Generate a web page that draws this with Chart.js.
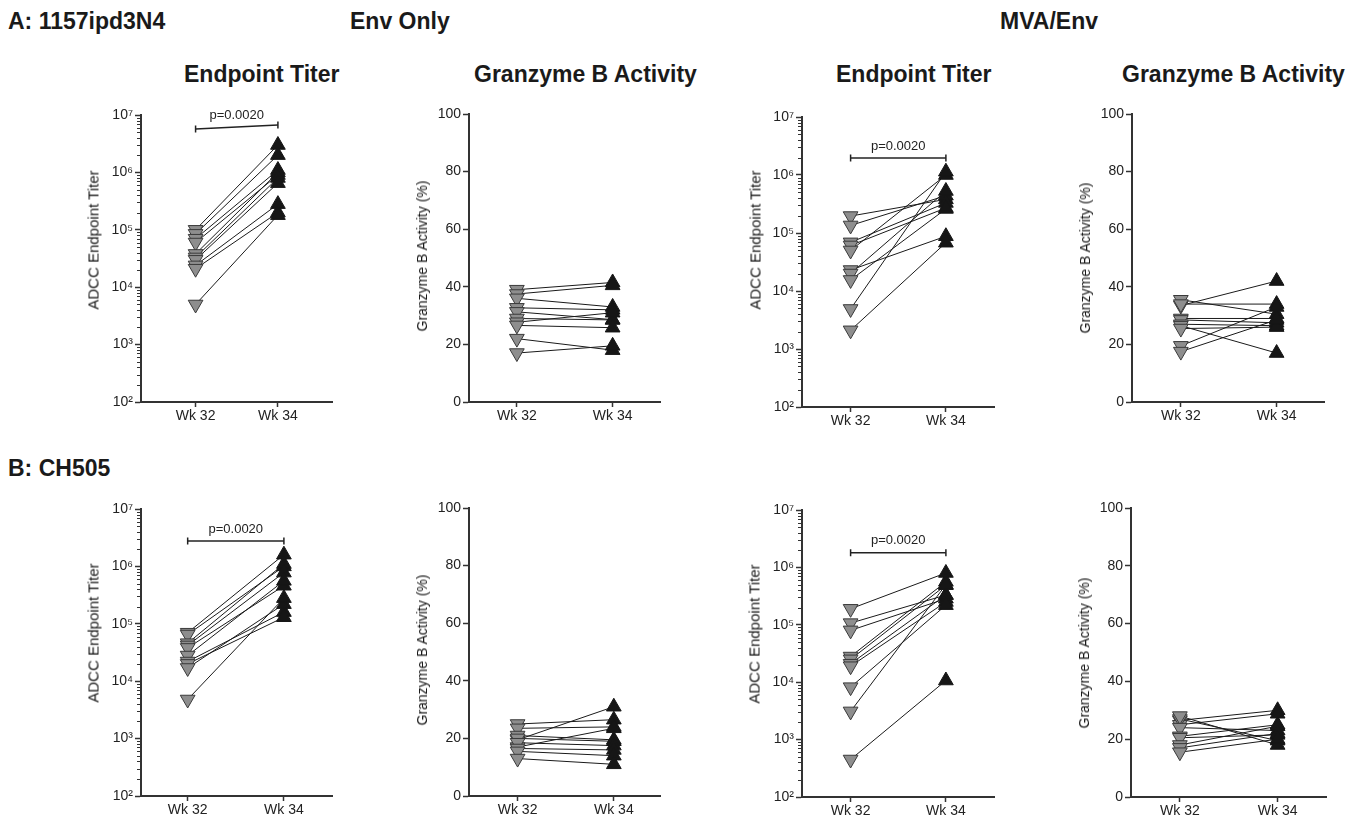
<!DOCTYPE html>
<html><head><meta charset="utf-8">
<script src="https://cdn.jsdelivr.net/npm/chart.js@4.4.1/dist/chart.umd.min.js"></script>
<style>
html,body{margin:0;padding:0;background:#fff;}
body{width:1349px;height:816px;position:relative;overflow:hidden;font-family:"Liberation Sans",Arial,sans-serif;color:#1a1a1a;}
.h{position:absolute;font-weight:bold;font-size:23px;line-height:1;white-space:nowrap;transform:translateY(-50%);}
.yt{position:absolute;font-size:14px;line-height:1;white-space:nowrap;transform:translate(-50%,-50%) rotate(-90deg);}
.yt.titer{font-size:15px;}
canvas{position:absolute;}
</style></head><body>
<div class="h" style="left:8px;top:21px">A: 1157ipd3N4</div>
<div class="h" style="left:350px;top:21px">Env Only</div>
<div class="h" style="left:1000px;top:21px">MVA/Env</div>
<div class="h" style="left:184px;top:74px">Endpoint Titer</div>
<div class="h" style="left:474px;top:74px">Granzyme B Activity</div>
<div class="h" style="left:836px;top:74px">Endpoint Titer</div>
<div class="h" style="left:1122px;top:74px">Granzyme B Activity</div>
<div class="h" style="left:8px;top:468px">B: CH505</div>
<script>
const weeks = ['Wk 32', 'Wk 34'];
const titerTicks = [1e2, 1e3, 1e4, 1e5, 1e6, 1e7];
const activityTicks = [0, 20, 40, 60, 80, 100];
const pText = 'p=0.0020';
const titerTitle = 'ADCC Endpoint Titer';
const activityTitle = 'Granzyme B Activity (%)';

// A: 1157ipd3N4
const aEnvTiterWk32 = [1.0e5, 8.5e4, 7.0e4, 6.0e4, 3.8e4, 3.3e4, 3.0e4, 2.4e4, 2.1e4, 5.0e3];
const aEnvTiterWk34 = [3.0e6, 2.0e6, 1.1e6, 9.0e5, 1.0e6, 8.0e5, 6.5e5, 2.8e5, 2.0e5, 1.8e5];
const aEnvActWk32 = [39, 37.5, 36, 32.7, 31.3, 29, 27.7, 26.6, 22, 17];
const aEnvActWk34 = [41.5, 40.5, 33, 32, 28.6, 28.5, 31, 25.8, 18, 19.5];
const aMvaTiterWk32 = [1.96e5, 1.35e5, 6.9e4, 6.1e4, 5.0e4, 2.3e4, 2.0e4, 1.55e4, 4.9e3, 2.1e3];
const aMvaTiterWk34 = [3.8e5, 4.4e5, 3.3e5, 2.7e5, 1.0e6, 8.8e4, 5.3e5, 2.6e5, 1.14e6, 6.8e4];
const aMvaActWk32 = [33.5, 35.5, 34, 29, 28.5, 27, 26.5, 25.5, 19.5, 17.5];
const aMvaActWk34 = [42, 30.5, 34, 29, 27.5, 26.5, 17, 26, 33, 28.5];
// B: CH505
const bEnvTiterWk32 = [7.0e4, 6.5e4, 4.6e4, 4.2e4, 3.8e4, 2.8e4, 2.2e4, 2.0e4, 1.7e4, 4.8e3];
const bEnvTiterWk34 = [1.6e6, 1.0e6, 1.1e6, 7.8e5, 4.6e5, 5.6e5, 1.6e5, 1.3e5, 2.2e5, 2.8e5];
const bEnvActWk32 = [19.5, 25, 23.5, 17, 21, 20, 18.5, 16.5, 15.5, 13];
const bEnvActWk34 = [31, 26.5, 24, 23.5, 19.5, 19, 17.5, 16, 14, 11];
const bMvaTiterWk32 = [1.9e5, 1.07e5, 8.0e4, 2.8e4, 2.5e4, 2.1e4, 1.9e4, 8.2e3, 3.1e3, 4.5e2];
const bMvaTiterWk34 = [8.0e5, 3.3e5, 2.85e5, 5.6e5, 4.9e5, 3.3e5, 2.5e5, 2.2e5, 5.0e5, 1.07e4];
const bMvaActWk32 = [26.5, 25, 27, 28, 24, 21, 20.5, 18, 17, 15.5];
const bMvaActWk34 = [30, 28.8, 19.5, 18, 23, 25, 21.5, 24.5, 22, 20];

const panels = [
  {kind:'log', wk32:aEnvTiterWk32, wk34:aEnvTiterWk34, left:141, right:334, top:115, bottom:402, xmin:-0.663, xmax:1.663, bracket:[5.7e6, 6.7e6], tx:93, ty:240},
  {kind:'lin', wk32:aEnvActWk32, wk34:aEnvActWk34, left:469, right:662, top:114, bottom:402, xmin:-0.5, xmax:1.5, tx:422, ty:256},
  {kind:'log', wk32:aMvaTiterWk32, wk34:aMvaTiterWk34, left:802, right:996, top:117, bottom:407, xmin:-0.51, xmax:1.51, bracket:[1.96e6, 1.96e6], tx:755, ty:240},
  {kind:'lin', wk32:aMvaActWk32, wk34:aMvaActWk34, left:1132, right:1326, top:114, bottom:402, xmin:-0.51, xmax:1.5, tx:1085, ty:258},
  {kind:'log', wk32:bEnvTiterWk32, wk34:bEnvTiterWk34, left:141, right:334, top:509, bottom:796, xmin:-0.485, xmax:1.505, bracket:[2.76e6, 2.76e6], tx:93, ty:633},
  {kind:'lin', wk32:bEnvActWk32, wk34:bEnvActWk34, left:469, right:662, top:508, bottom:796, xmin:-0.505, xmax:1.485, tx:422, ty:650},
  {kind:'log', wk32:bMvaTiterWk32, wk34:bMvaTiterWk34, left:802, right:996, top:510, bottom:797, xmin:-0.51, xmax:1.51, bracket:[1.8e6, 1.8e6], tx:754, ty:634},
  {kind:'lin', wk32:bMvaActWk32, wk34:bMvaActWk34, left:1131, right:1328, top:508, bottom:797, xmin:-0.5, xmax:1.5, tx:1084, ty:653}
];

const SUP = {2:'\u00B2', 3:'\u00B3', 4:'\u2074', 5:'\u2075', 6:'\u2076', 7:'\u2077'};
const AXIS = '#333333';
const PAD_L = 60, PAD_T = 14, PAD_R = 8, PAD_B = 28;

Chart.defaults.font.family = '"Liberation Sans", Arial, sans-serif';
Chart.defaults.color = '#222';

const extras = {
  id: 'extras',
  afterDraw(chart) {
    const o = chart.options.plugins.extras;
    const ctx = chart.ctx, y = chart.scales.y, x = chart.scales.x;
    ctx.save();
    if (o.kind === 'log') {
      ctx.strokeStyle = AXIS; ctx.lineWidth = 1;
      const ax = chart.chartArea.left;
      for (let e = 2; e < 7; e++) {
        for (let k = 2; k <= 9; k++) {
          const py = Math.round(y.getPixelForValue(k * Math.pow(10, e))) + 0.5;
          ctx.beginPath(); ctx.moveTo(ax - 4, py); ctx.lineTo(ax, py); ctx.stroke();
        }
      }
    }
    if (o.bracket) {
      const x0 = x.getPixelForValue(0), x1 = x.getPixelForValue(1);
      const y0 = y.getPixelForValue(o.bracket[0]), y1 = y.getPixelForValue(o.bracket[1]);
      ctx.strokeStyle = '#222'; ctx.lineWidth = 1.5;
      ctx.beginPath(); ctx.moveTo(x0, y0); ctx.lineTo(x1, y1); ctx.stroke();
      ctx.beginPath(); ctx.moveTo(x0, y0 - 3.5); ctx.lineTo(x0, y0 + 3.5);
      ctx.moveTo(x1, y1 - 3.5); ctx.lineTo(x1, y1 + 3.5); ctx.stroke();
      ctx.fillStyle = '#222'; ctx.font = '13px "Liberation Sans", Arial, sans-serif';
      ctx.textAlign = 'center'; ctx.textBaseline = 'middle';
      ctx.fillText(pText, (x0 + x1) / 2, (y0 + y1) / 2 - 12);
    }
    ctx.restore();
  }
};

panels.forEach(p => {
  const w = (p.right - p.left) + PAD_L + PAD_R;
  const h = (p.bottom - p.top) + PAD_T + PAD_B;
  const cv = document.createElement('canvas');
  cv.width = w; cv.height = h;
  cv.style.left = (p.left - PAD_L) + 'px';
  cv.style.top = (p.top - PAD_T) + 'px';
  cv.style.width = w + 'px'; cv.style.height = h + 'px';
  document.body.appendChild(cv);

  const t = document.createElement('div');
  t.className = 'yt' + (p.kind === 'log' ? ' titer' : '');
  t.textContent = p.kind === 'log' ? titerTitle : activityTitle;
  t.style.left = p.tx + 'px'; t.style.top = p.ty + 'px';
  document.body.appendChild(t);

  const datasets = [];
  datasets.push({
    data: p.wk32.map(v => ({x: 0, y: v})), showLine: false, order: 0,
    pointStyle: 'triangle', pointRotation: 180, pointRadius: 8.5, pointHoverRadius: 8.5,
    pointBackgroundColor: '#8e8e8e', pointBorderColor: '#3a3a3a', pointBorderWidth: 1
  });
  datasets.push({
    data: p.wk34.map(v => ({x: 1, y: v})), showLine: false, order: 0,
    pointStyle: 'triangle', pointRotation: 0, pointRadius: 8.5, pointHoverRadius: 8.5,
    pointBackgroundColor: '#161616', pointBorderColor: '#161616', pointBorderWidth: 1
  });
  p.wk32.forEach((v, i) => {
    datasets.push({
      data: [{x: 0, y: v}, {x: 1, y: p.wk34[i]}], order: 1,
      borderColor: '#1a1a1a', borderWidth: 1, pointRadius: 0, pointHoverRadius: 0, tension: 0
    });
  });

  const yScale = p.kind === 'log' ? {
    type: 'logarithmic', min: 1e2, max: 1e7,
    afterBuildTicks: s => { s.ticks = titerTicks.map(v => ({value: v})); },
    ticks: {callback: v => '10' + SUP[Math.round(Math.log10(v))], font: {size: 14}, color: '#222', padding: 2, autoSkip: false}
  } : {
    type: 'linear', min: 0, max: 100,
    afterBuildTicks: s => { s.ticks = activityTicks.map(v => ({value: v})); },
    ticks: {callback: v => String(v), font: {size: 14}, color: '#222', padding: 2, autoSkip: false}
  };
  Object.assign(yScale, {
    afterFit: s => { s.width = PAD_L; },
    grid: {display: true, drawOnChartArea: false, drawTicks: true, tickLength: 6, tickWidth: 1.5, tickColor: AXIS},
    border: {display: true, color: AXIS, width: 2}
  });

  new Chart(cv, {
    type: 'line',
    data: {datasets},
    options: {
      responsive: false, animation: false, events: [],
      layout: {padding: {left: 0, top: PAD_T, right: PAD_R, bottom: 0}},
      plugins: {legend: {display: false}, tooltip: {enabled: false}, extras: {kind: p.kind, bracket: p.bracket}},
      scales: {
        x: {
          type: 'linear', min: p.xmin, max: p.xmax,
          afterBuildTicks: s => { s.ticks = weeks.map((_, i) => ({value: i})); },
          afterFit: s => { s.height = PAD_B; },
          ticks: {callback: v => weeks[v], font: {size: 14}, color: '#222', padding: 1, autoSkip: false, maxRotation: 0},
          grid: {display: true, drawOnChartArea: false, drawTicks: true, tickLength: 5, tickWidth: 1.5, tickColor: AXIS},
          border: {display: true, color: AXIS, width: 2}
        },
        y: yScale
      }
    },
    plugins: [extras]
  });
});
</script>
</body></html>
